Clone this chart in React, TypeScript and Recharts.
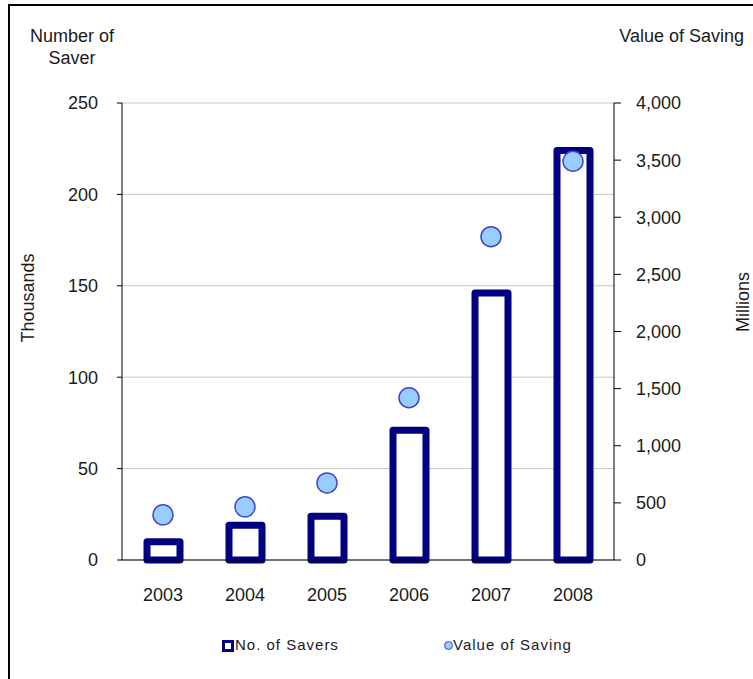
import React from 'react';
import {
  ComposedChart,
  Bar,
  Scatter,
  XAxis,
  YAxis,
  CartesianGrid,
  Legend,
} from 'recharts';

// values
const years = ['2003', '2004', '2005', '2006', '2007', '2008'];
const saversThousands = [10, 19, 24, 71, 146, 224];
const savingMillions = [395, 465, 675, 1420, 2830, 3490];

const leftTicks = [0, 50, 100, 150, 200, 250];
const rightTicks = [0, 500, 1000, 1500, 2000, 2500, 3000, 3500, 4000];
const edgeTicks = [0, 1, 2, 3, 4, 5, 6];

const data = years.map((year, i) => ({
  year,
  savers: saversThousands[i],
  saving: savingMillions[i],
}));

const NAVY = '#000080';
const DOT_FILL = '#99CCFF';
const DOT_STROKE = '#3F48CC';
const FONT = '"Liberation Sans", Arial, sans-serif';
const TEXT = '#1a1a1a';

const tickStyle = { fontSize: 18, fill: TEXT, fontFamily: FONT };

const Dot = (props: any) => {
  const { cx, cy } = props;
  if (cx == null || cy == null) return null;
  return <circle cx={cx} cy={cy} r={10} fill={DOT_FILL} stroke={DOT_STROKE} strokeWidth={1.5} />;
};

const LegendBox = () => (
  <div
    style={{
      position: 'relative',
      height: 24,
      fontFamily: FONT,
      fontSize: 15,
      letterSpacing: 1,
      color: TEXT,
    }}
  >
    <span
      style={{
        position: 'absolute',
        left: 222,
        top: 7,
        width: 6,
        height: 6,
        border: `3px solid ${NAVY}`,
        background: '#fff',
      }}
    />
    <span style={{ position: 'absolute', left: 235, top: 2, lineHeight: '20px' }}>No. of Savers</span>
    <span
      style={{
        position: 'absolute',
        left: 444,
        top: 8,
        width: 7,
        height: 7,
        borderRadius: '50%',
        border: `1px solid ${DOT_STROKE}`,
        background: DOT_FILL,
      }}
    />
    <span style={{ position: 'absolute', left: 453, top: 2, lineHeight: '20px' }}>Value of Saving</span>
  </div>
);

export default function App() {
  return (
    <div style={{ position: 'absolute', left: 0, top: 0, width: 753, height: 679, background: '#fff' }}>
      <div
        style={{
          position: 'absolute',
          left: 8,
          top: 4,
          width: 743,
          height: 673,
          borderTop: '2px solid #000',
          borderLeft: '2px solid #000',
        }}
      />
      <ComposedChart
        width={753}
        height={679}
        data={data}
        margin={{ top: 103, right: 0, bottom: 22, left: 0 }}
        style={{ position: 'absolute', left: 0, top: 0 }}
      >
        <CartesianGrid yAxisId="left" vertical={false} stroke="#c8c8c8" />
        <XAxis
          xAxisId="xb"
          dataKey="year"
          height={72}
          tickSize={0}
          tickLine={false}
          tickMargin={27}
          axisLine={false}
          tick={tickStyle}
        />
        {/* boundary ticks between the years, like the original */}
        <XAxis
          xAxisId="xa"
          type="number"
          domain={[0, 6]}
          ticks={edgeTicks}
          tick={false}
          tickSize={7}
          axisLine={{ stroke: '#000' }}
          tickLine={{ stroke: '#000' }}
          height={1}
          allowDataOverflow
        />
        <YAxis
          yAxisId="left"
          orientation="left"
          width={122}
          domain={[0, 250]}
          ticks={leftTicks}
          tickSize={5}
          tickMargin={19}
          axisLine={{ stroke: '#000' }}
          tickLine={{ stroke: '#000' }}
          tick={tickStyle}
        />
        <YAxis
          yAxisId="right"
          orientation="right"
          width={139}
          domain={[0, 4000]}
          ticks={rightTicks}
          tickSize={7}
          tickMargin={15}
          tickFormatter={(v: number) => v.toLocaleString('en-US')}
          axisLine={{ stroke: '#000' }}
          tickLine={{ stroke: '#000' }}
          tick={tickStyle}
        />
        <Bar
          xAxisId="xb"
          yAxisId="left"
          dataKey="savers"
          name="No. of Savers"
          barSize={33}
          fill="#fff"
          stroke={NAVY}
          strokeWidth={7}
          strokeLinejoin="round"
          isAnimationActive={false}
        />
        <Scatter
          xAxisId="xb"
          yAxisId="right"
          dataKey="saving"
          name="Value of Saving"
          shape={<Dot />}
          isAnimationActive={false}
        />
        <Legend verticalAlign="bottom" align="left" content={() => <LegendBox />} />
        <text x={72} y={42} textAnchor="middle" fontFamily={FONT} fontSize={18} fill={TEXT}>
          Number of
        </text>
        <text x={72} y={64} textAnchor="middle" fontFamily={FONT} fontSize={18} fill={TEXT}>
          Saver
        </text>
        <text x={744} y={42} textAnchor="end" fontFamily={FONT} fontSize={18} fill={TEXT}>
          Value of Saving
        </text>
        <text
          x={34}
          y={298}
          textAnchor="middle"
          fontFamily={FONT}
          fontSize={18}
          fill={TEXT}
          transform="rotate(-90 34 298)"
        >
          Thousands
        </text>
        <text
          x={749}
          y={302}
          textAnchor="middle"
          fontFamily={FONT}
          fontSize={18}
          fill={TEXT}
          transform="rotate(-90 749 302)"
        >
          Millions
        </text>
      </ComposedChart>
    </div>
  );
}
